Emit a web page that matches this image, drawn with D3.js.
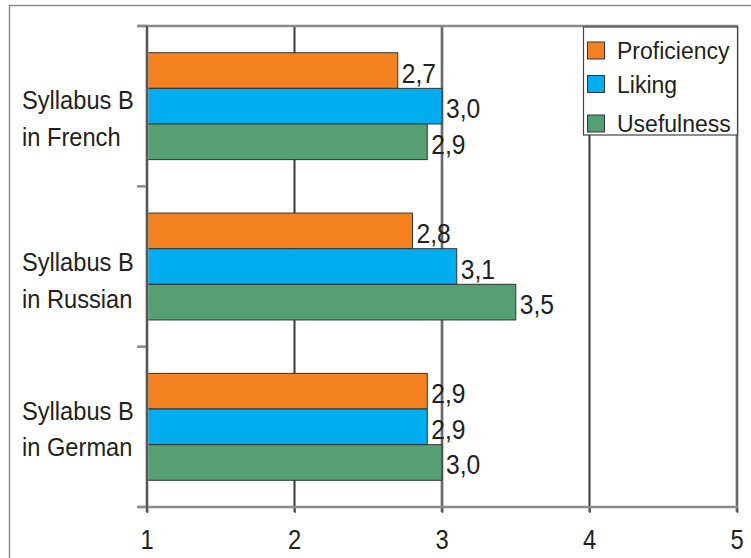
<!DOCTYPE html>
<html>
<head>
<meta charset="utf-8">
<script src="https://cdn.jsdelivr.net/npm/d3@7"></script>
<style>
  html, body { margin: 0; padding: 0; background: #fff; }
  svg { display: block; }
  text { font-family: "Liberation Sans", Arial, sans-serif; fill: #231f20; }
</style>
</head>
<body>
<script>
// ---- data ----
const categories = ["Syllabus B\nin French", "Syllabus B\nin Russian", "Syllabus B\nin German"];
const series = ["Proficiency", "Liking", "Usefulness"];
const proficiency = [2.7, 2.8, 2.9];
const liking = [3.0, 3.1, 2.9];
const usefulness = [2.9, 3.5, 3.0];
const xTicks = [1, 2, 3, 4, 5];
const colors = ["#f48220", "#00aeef", "#55a073"];

(function () {
const values = [proficiency, liking, usefulness];
const fmt = v => d3.format(".1f")(v).replace(".", ",");

// ---- layout ----
const W = 751, H = 558;
const pL = 147, pR = 737, pT = 26, pB = 507;
const labelShift = [3, 4.5, -7]; // first-line baseline offset per category label
const sx = 0.88;

const svg = d3.select("body").append("svg").attr("width", W).attr("height", H);

// outer frame
svg.append("rect").attr("x", 9.5).attr("y", 5.5).attr("width", 800).attr("height", 600)
  .attr("fill", "none").attr("stroke", "#8c8c8c").attr("stroke-width", 1.5);

const x = d3.scaleLinear().domain([1, 5]).range([pL, pR]);
const y = d3.scaleBand().domain(categories).range([pT, pB]).paddingInner(1/3).paddingOuter(1/6);
const yInner = d3.scaleBand().domain(series).range([0, y.bandwidth()]);

// vertical gridlines
svg.append("g").selectAll("line").data(xTicks.slice(1)).join("line")
  .attr("x1", d => x(d)).attr("x2", d => x(d))
  .attr("y1", pT).attr("y2", pB + 5)
  .attr("stroke", "#9a9a9a").attr("stroke-width", 3);
svg.append("g").selectAll("line").data(xTicks.slice(1)).join("line")
  .attr("x1", d => x(d)).attr("x2", d => x(d))
  .attr("y1", pT).attr("y2", pB + 5)
  .attr("stroke", "#3a3a3a").attr("stroke-width", 1);

// top line
svg.append("line").attr("x1", 138).attr("x2", pR + 1).attr("y1", pT).attr("y2", pT)
  .attr("stroke", "#8a8a8a").attr("stroke-width", 2.5);

// bars
const groups = svg.append("g").selectAll("g").data(categories).join("g")
  .attr("transform", c => `translate(0,${y(c)})`);
groups.each(function(c, ci) {
  const g = d3.select(this);
  series.forEach((s, si) => {
    const v = values[si][ci];
    g.append("rect")
      .attr("x", x(1)).attr("y", yInner(s))
      .attr("width", x(v) - x(1)).attr("height", yInner.bandwidth())
      .attr("fill", colors[si]).attr("stroke", "#333").attr("stroke-width", 1);
    g.append("g")
      .attr("transform", `translate(${x(v) + 4},${yInner(s) + yInner.bandwidth() / 2 + 12}) scale(${sx},1)`)
      .append("text").attr("font-size", 28).text(fmt(v));
  });
});

// bottom axis
const xAxis = d3.axisBottom(x).tickValues(xTicks).tickSize(6).tickFormat(d3.format("d"));
const ax = svg.append("g").attr("transform", `translate(0,${pB})`).call(xAxis);
ax.select(".domain").remove();
ax.selectAll(".tick line").attr("stroke", "#555").attr("stroke-width", 1.5);
ax.selectAll(".tick text").remove();
svg.append("line").attr("x1", 138).attr("x2", pR + 1).attr("y1", pB).attr("y2", pB)
  .attr("stroke", "#8a8a8a").attr("stroke-width", 2.5);
svg.append("g").selectAll("g").data(xTicks).join("g")
  .attr("transform", d => `translate(${x(d)},549) scale(${sx},1)`)
  .append("text").attr("font-size", 27).attr("text-anchor", "middle").text(d => d);

// left axis with category separators
const sepY = [pT, ...categories.slice(1).map(c => y(c) - y.step() * y.paddingInner() / 2), pB];
svg.append("g").selectAll("line").data(sepY).join("line")
  .attr("x1", 137).attr("x2", pL).attr("y1", d => d).attr("y2", d => d)
  .attr("stroke", "#8a8a8a").attr("stroke-width", 2.5);
svg.append("line").attr("x1", pL).attr("x2", pL).attr("y1", pT).attr("y2", pB + 5)
  .attr("stroke", "#9a9a9a").attr("stroke-width", 3);
svg.append("line").attr("x1", pL).attr("x2", pL).attr("y1", pT).attr("y2", pB + 5)
  .attr("stroke", "#2a2a2a").attr("stroke-width", 1.2);

// category labels
categories.forEach((c, ci) => {
  const cy = y(c) + y.bandwidth() / 2 + labelShift[ci];
  c.split("\n").forEach((line, li) => {
    svg.append("g")
      .attr("transform", `translate(22,${cy + li * 36.5}) scale(0.91,1)`)
      .append("text").attr("font-size", 26).text(line);
  });
});

// legend
const legRows = [50.5, 84, 123.5];
const leg = svg.append("g");
leg.append("rect").attr("x", 583.5).attr("y", 27).attr("width", 154).attr("height", 108)
  .attr("fill", "#fff").attr("stroke", "#444").attr("stroke-width", 1.2);
series.forEach((s, i) => {
  leg.append("rect").attr("x", 587.5).attr("y", legRows[i] - 8.5).attr("width", 17).attr("height", 17)
    .attr("fill", colors[i]).attr("stroke", "#333").attr("stroke-width", 1);
  leg.append("text").attr("x", 617).attr("y", legRows[i] + 8.5).attr("font-size", 23).text(s);
});
})();
</script>
</body>
</html>
